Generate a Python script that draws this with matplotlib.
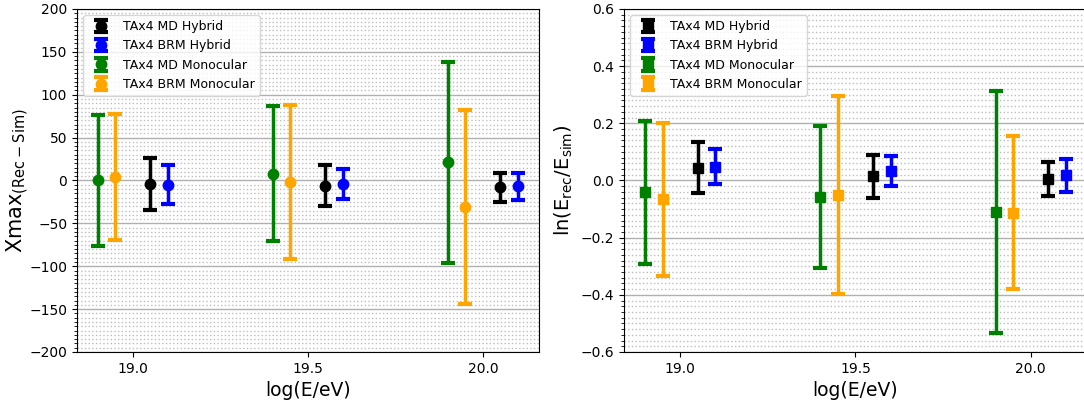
import matplotlib
matplotlib.use("Agg")
import matplotlib.pyplot as plt
from matplotlib.ticker import MultipleLocator

# energy bins, shifted per detector / reconstruction mode
x_md_mono = [18.90, 19.40, 19.90]
x_brm_mono = [18.95, 19.45, 19.95]
x_md_hyb = [19.05, 19.55, 20.05]
x_brm_hyb = [19.10, 19.60, 20.10]

# Xmax bias (Rec - Sim) and resolution
xmax_md_hyb = [-4, -6, -8]
xmax_md_hyb_err = [30, 24, 17]
xmax_brm_hyb = [-5, -4, -7]
xmax_brm_hyb_err = [22.5, 17.5, 15.5]
xmax_md_mono = [0, 8, 21]
xmax_md_mono_err = [76, 79, 117]
xmax_brm_mono = [4, -2, -31]
xmax_brm_mono_err = [73, 90, 113]

# ln(E_rec/E_sim) bias and resolution
lne_md_hyb = [0.045, 0.015, 0.005]
lne_md_hyb_err = [0.090, 0.075, 0.060]
lne_brm_hyb = [0.048, 0.033, 0.018]
lne_brm_hyb_err = [0.061, 0.054, 0.058]
lne_md_mono = [-0.042, -0.057, -0.110]
lne_md_mono_err = [0.251, 0.248, 0.422]
lne_brm_mono = [-0.066, -0.050, -0.113]
lne_brm_mono_err = [0.267, 0.347, 0.267]

labels = ["TAx4 MD Hybrid", "TAx4 BRM Hybrid", "TAx4 MD Monocular", "TAx4 BRM Monocular"]
colors = ["black", "blue", "green", "orange"]
xs = [x_md_hyb, x_brm_hyb, x_md_mono, x_brm_mono]

fig = plt.figure(figsize=(10.84, 4.05), dpi=100)
ax1 = fig.add_axes([0.0710, 0.1309, 0.4262, 0.8469])
ax2 = fig.add_axes([0.5756, 0.1309, 0.4271, 0.8469])

def draw(ax, ys, errs, marker, ms):
    for x, y, e, c, lab in zip(xs, ys, errs, colors, labels):
        ax.errorbar(x, y, yerr=e, fmt=marker, color=c, ms=ms, elinewidth=2.5,
                    capsize=5, capthick=3, label=lab)
    ax.grid(axis='y', which='major', color='#b0b0b0', ls='-', lw=1)
    ax.grid(axis='y', which='minor', color='#bdbdbd', ls=':', lw=1)
    ax.set_axisbelow(True)
    ax.set_xticks([19.0, 19.5, 20.0])
    ax.set_xlim(18.84, 20.16)
    ax.tick_params(labelsize=10)
    ax.set_xlabel("log(E/eV)", fontsize=13.5)
    ax.legend(loc='upper left', fontsize=9)

draw(ax1, [xmax_md_hyb, xmax_brm_hyb, xmax_md_mono, xmax_brm_mono],
     [xmax_md_hyb_err, xmax_brm_hyb_err, xmax_md_mono_err, xmax_brm_mono_err], 'o', 7.5)
ax1.set_ylim(-200, 200)
ax1.yaxis.set_major_locator(MultipleLocator(50))
ax1.yaxis.set_minor_locator(MultipleLocator(5))
ax1.set_ylabel(r"Xmax$_{\rm (Rec-Sim)}$", fontsize=15)
ax1.yaxis.set_label_coords(-0.1, 0.5)

draw(ax2, [lne_md_hyb, lne_brm_hyb, lne_md_mono, lne_brm_mono],
     [lne_md_hyb_err, lne_brm_hyb_err, lne_md_mono_err, lne_brm_mono_err], 's', 7)
ax2.set_ylim(-0.6, 0.6)
ax2.yaxis.set_major_locator(MultipleLocator(0.2))
ax2.yaxis.set_minor_locator(MultipleLocator(0.02))
ax2.set_ylabel(r"ln(E$_{\rm rec}$/E$_{\rm sim}$)", fontsize=14)

fig.savefig("out.png", dpi=100)
